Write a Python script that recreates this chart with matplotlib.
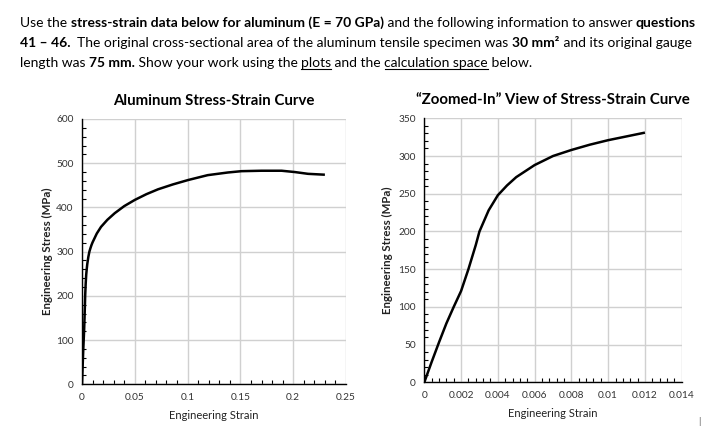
import matplotlib
matplotlib.use("Agg")
import matplotlib.pyplot as plt
from matplotlib.ticker import MultipleLocator

# stress-strain data (strain, MPa)
strain = [0, 0.0004, 0.0008, 0.0012, 0.0016, 0.002, 0.0024, 0.0028, 0.003, 0.0035,
          0.004, 0.0045, 0.005, 0.006, 0.007, 0.008, 0.009, 0.010, 0.011, 0.012,
          0.014, 0.018, 0.024, 0.031, 0.040, 0.05, 0.061, 0.072, 0.086, 0.1005,
          0.119, 0.138, 0.151, 0.170, 0.189, 0.2016, 0.214, 0.230]
stress = [0, 27, 53, 78, 100, 121, 150, 182, 200, 228,
          248, 261, 272, 288, 300, 308, 315, 321, 326, 331,
          341, 356, 372, 387, 403, 417, 430, 441, 452, 462,
          473, 479, 482, 483, 483, 480, 476, 474]
zoom_max_strain = 0.012

left_xticks = [0, 0.05, 0.1, 0.15, 0.2, 0.25]
left_xticklabels = ["0", "0.05", "0.1", "0.15", "0.2", "0.25"]
left_yticks = [0, 100, 200, 300, 400, 500, 600]
right_xticks = [0, 0.002, 0.004, 0.006, 0.008, 0.01, 0.012, 0.014]
right_xticklabels = ["0", "0.002", "0.004", "0.006", "0.008", "0.01", "0.012", "0.014"]
right_yticks = [0, 50, 100, 150, 200, 250, 300, 350]

header = [
    [("Use the ", "normal", False), ("stress-strain data below for aluminum (E = 70 GPa)", "bold", False),
     (" and the following information to answer ", "normal", False), ("questions", "bold", False)],
    [("41 \u2013 46.", "bold", False),
     ("  The original cross-sectional area of the aluminum tensile specimen was ", "normal", False),
     ("30 mm\u00b2", "bold", False), (" and its original gauge", "normal", False)],
    [("length was ", "normal", False), ("75 mm.", "bold", False), (" Show your work using the ", "normal", False),
     ("plots", "normal", True), (" and the ", "normal", False), ("calculation space", "normal", True),
     (" below.", "normal", False)],
]

plt.rcParams['font.family'] = ['Lato', 'DejaVu Sans']
W, H = 715, 434
fig = plt.figure(figsize=(W / 100, H / 100), dpi=100)
renderer = fig.canvas.get_renderer()

# size the header so the first line spans about 20..700 px like the reference
base = 10.0
width = 0
for txt, weight, _ in header[0]:
    t = fig.text(0, 0, txt, fontsize=base, fontweight=weight)
    width += t.get_window_extent(renderer).width
    t.remove()
hsize = base * 676 / width

line_y = [27, 47, 67]
for pieces, ypx in zip(header, line_y):
    xpx = 20
    for txt, weight, underline in pieces:
        t = fig.text(xpx / W, 1 - ypx / H, txt, fontsize=hsize, fontweight=weight,
                     va='baseline', ha='left', color='black')
        bb = t.get_window_extent(renderer)
        if underline:
            fig.add_artist(plt.Line2D([bb.x0 / W, bb.x1 / W], [1 - (ypx + 2) / H] * 2,
                                      color='black', lw=0.8))
        xpx += bb.width


def style_axes(ax, xticks, xlabels, yticks, xminor, yminor, ypad):
    ax.set_xticks(xticks)
    ax.set_xticklabels(xlabels)
    ax.set_yticks(yticks)
    ax.set_xlim(xticks[0], xticks[-1])
    ax.set_ylim(yticks[0], yticks[-1])
    ax.xaxis.set_minor_locator(MultipleLocator(xminor))
    ax.yaxis.set_minor_locator(MultipleLocator(yminor))
    ax.grid(True, which='major', color='#d0d0d0', lw=1.0)
    ax.set_axisbelow(True)
    for s in ['top', 'right']:
        ax.spines[s].set_visible(False)
    for s in ['left', 'bottom']:
        ax.spines[s].set_color('black')
        ax.spines[s].set_linewidth(1.0)
    ax.tick_params(which='both', direction='in', colors='black', labelsize=7.3, labelcolor='#333333')
    ax.tick_params(which='major', length=0, pad=6)
    ax.tick_params(which='minor', length=3, width=0.8)
    ax.set_xlabel("Engineering Strain", fontsize=8, color='#222222', labelpad=6)
    ax.set_ylabel("Engineering Stress (MPa)", fontsize=8.3, fontweight='bold', color='#222222', labelpad=ypad)


ax1 = fig.add_axes([82 / W, 1 - 384.3 / H, 264 / W, 265.3 / H])
ax1.plot(strain, stress, color='black', lw=1.8, solid_capstyle='butt')
style_axes(ax1, left_xticks, left_xticklabels, left_yticks, 0.01, 20, 2)
ax1.set_title("Aluminum Stress-Strain Curve", fontsize=10.8, fontweight='bold', pad=10)

zs = [s for s in strain if s <= zoom_max_strain]
zt = stress[:len(zs)]
ax2 = fig.add_axes([424.3 / W, 1 - 382.3 / H, 257.4 / W, 264 / H])
ax2.plot(zs, zt, color='black', lw=1.8, solid_capstyle='butt')
style_axes(ax2, right_xticks, right_xticklabels, right_yticks, 0.0004, 10, 4)
ax2.set_title("\u201cZoomed-In\u201d View of Stress-Strain Curve", fontsize=10.8, fontweight='bold', pad=10)

fig.text(699 / W, 1 - 424 / H, "|", fontsize=7, color='#555555', ha='center')

fig.savefig("out.png", dpi=100)
